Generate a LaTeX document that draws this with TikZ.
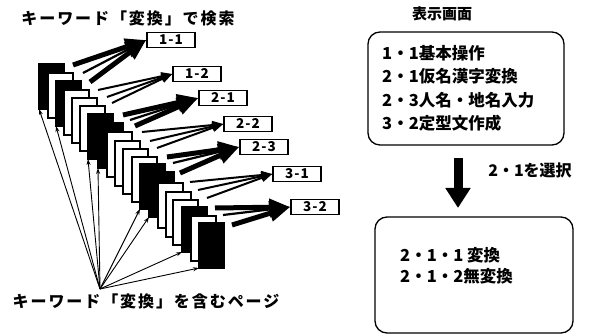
\documentclass[tikz,border=0pt]{standalone}
\usepackage{fontspec}
\setmainfont{Noto Sans CJK JP}
\usetikzlibrary{arrows.meta}
\tikzset{
  page/.style={draw, line width=1.2pt, minimum width=25pt, minimum height=45pt, inner sep=0pt, outer sep=0pt, anchor=north west},
  lbl/.style={draw, line width=1.5pt, fill=white, font=\fontsize{13.5}{13.5}\selectfont\bfseries\addfontfeatures{LetterSpace=8}, minimum width=48pt, minimum height=15pt, inner sep=0.5pt},
  hv/.style={line width=5pt, -{Triangle[length=21pt,width=16pt]}},
  hvt/.style={line width=2.2pt, -{Triangle[length=21pt,width=16pt]}},
  lt/.style={line width=2pt, -{Triangle[length=11pt,width=8pt]}},
  thinarr/.style={line width=0.9pt, -{Stealth[length=6pt,width=4pt]}},
  rbox/.style={draw, line width=1.3pt, rounded corners=12pt, inner sep=0pt},
  big/.style={font=\fontsize{16}{16}\selectfont\bfseries\addfontfeatures{LetterSpace=12}},
  boxtxt/.style={font=\fontsize{16.5}{23.5}\selectfont\bfseries, align=left, inner sep=0pt}
}
\begin{document}
\begin{tikzpicture}[x=1pt,y=-1pt]
\useasboundingbox (0,0) rectangle (590,336);
% stacked pages
\foreach \n/\x/\y/\c in {0/39/64/black,1/48/73/white,2/56/81/black,3/64/90/white,4/72/98/white,5/80/106/white,6/88/114/black,7/98/123/black,8/107/132/white,9/115/141/white,10/123/149/white,11/132/157/white,12/140/164/black,13/149/172/black,14/158/183/white,15/166/192/white,16/173/200/white,17/182/207/black,18/191/216/white,19/199/223/black}
  \node[page, fill=\c] (p\n) at (\x,\y) {};
% labels
\node[lbl] (L11) at (171,40) {1-1};
\node[lbl] (L12) at (197,74) {1-2};
\node[lbl] (L21) at (223,98) {2-1};
\node[lbl] (L22) at (248,124) {2-2};
\node[lbl] (L23) at (264,147) {2-3};
\node[lbl] (L31) at (297,174) {3-1};
\node[lbl] (L32) at (315,207) {3-2};
% tails
\coordinate (s1) at (73,65);  \coordinate (s2) at (83,73);  \coordinate (s3) at (90,82);
\coordinate (s4) at (98,90);  \coordinate (s5) at (107,97); \coordinate (s6) at (112,103);
\coordinate (s7) at (123,115);\coordinate (s8) at (130,120);\coordinate (s9) at (135,126);
\coordinate (s10) at (142,132);\coordinate (s11) at (150,141);\coordinate (s12) at (157,148);
\coordinate (s13) at (167,157);\coordinate (s14) at (173,163);\coordinate (s15) at (180,173);
\coordinate (s16) at (190,182);\coordinate (s17) at (198,190);\coordinate (s18) at (207,198);
\coordinate (s19) at (215,208);\coordinate (s20) at (223,215);\coordinate (s21) at (232,225);
\draw[hv] (s1) -- (L11.west); \draw[hvt] (s2) -- (L11.west); \draw[hv] (s3) -- (L11.west);
\draw[lt] (s4) -- (L12.west); \draw[lt] (s5) -- (L12.west); \draw[lt] (s6) -- (L12.west);
\draw[hv] (s7) -- (L21.west); \draw[hvt] (s8) -- (L21.west); \draw[hv] (s9) -- (L21.west);
\draw[lt] (s10) -- (L22.west); \draw[lt] (s11) -- (L22.west); \draw[lt] (s12) -- (L22.west);
\draw[hv] (s13) -- (L23.west); \draw[hvt] (s14) -- (L23.west); \draw[hv] (s15) -- (L23.west);
\draw[lt] (s16) -- (L31.west); \draw[lt] (s17) -- (L31.west); \draw[lt] (s18) -- (L31.west);
\draw[hv] (s19) -- (L32.west); \draw[hvt] (s20) -- (L32.west); \draw[hv] (s21) -- (L32.west);
% hub arrows
\coordinate (hub) at (100,289);
\foreach \k in {0,2,6,7,12,13,17,19}
  \draw[thinarr] (hub) -- (p\k.south west);
% left texts
\node[big] (top) at (128,18) {キーワード「変換」で検索};
\node[big] (bot) at (146,301) {キーワード「変換」を含むページ};
% right side
\node[font=\fontsize{15}{15}\selectfont\bfseries] (ttl) at (442,14) {表示画面};
\node[rbox, minimum width=196pt, minimum height=113pt] (B1) at (466,88.5) {};
\node[boxtxt, anchor=west] (T1) at (382,88.5) {1・1基本操作\\2・1仮名漢字変換\\2・3人名・地名入力\\3・2定型文作成};
\coordinate (a1) at (458,158);
\coordinate (a2) at (458,208);
\draw[line width=9pt, -{Triangle[length=20pt,width=24pt]}] (a1) -- (a2);
\node[font=\fontsize{16}{16}\selectfont\bfseries] (sel) at (530,170) {2・1を選択};
\node[rbox, minimum width=198pt, minimum height=116pt] (B2) at (474,275) {};
\node[boxtxt, anchor=north west, font=\fontsize{16.5}{21}\selectfont\bfseries] (T2) at (400,247) {2・1・1 変換\\2・1・2無変換};
\end{tikzpicture}
\end{document}
